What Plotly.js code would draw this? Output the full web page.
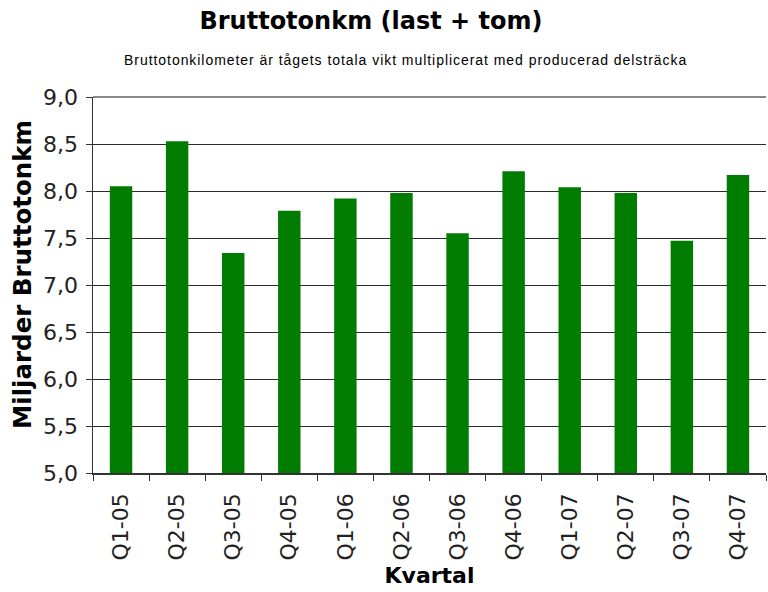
<!DOCTYPE html>
<html><head><meta charset="utf-8">
<script src="https://cdn.plot.ly/plotly-3.0.1.min.js"></script>
<style>body{margin:0;background:#fff} g.annotation[data-index="0"] .annotation-text{letter-spacing:0.95px}</style>
</head><body><div id="chart" style="width:768px;height:592px"></div>
<script>
const categories = ["Q1-05","Q2-05","Q3-05","Q4-05","Q1-06","Q2-06","Q3-06","Q4-06","Q1-07","Q2-07","Q3-07","Q4-07"];
const values = [8.05, 8.53, 7.34, 7.79, 7.92, 7.98, 7.55, 8.21, 8.04, 7.98, 7.47, 8.17];
const yTicks = [5.0, 5.5, 6.0, 6.5, 7.0, 7.5, 8.0, 8.5, 9.0];

const trace = {
  type: "bar", x: categories, y: values,
  marker: {color: "#007c00", line: {width: 0}},
  hoverinfo: "x+y"
};
const layout = {
  width: 768, height: 592,
  margin: {l: 93, r: 2, t: 97, b: 119},
  paper_bgcolor: "#fff", plot_bgcolor: "#fff",
  separators: ",.",
  bargap: 0.6,
  showlegend: false,
  font: {family: "DejaVu Sans, Verdana, sans-serif", color: "#000"},
  title: {text: "<b>Bruttotonkm (last + tom)</b>", font: {size: 24, family: "DejaVu Sans, Verdana, sans-serif"}, x: 0.483, xanchor: "center", y: 0.966, yanchor: "middle"},
  annotations: [{
    text: "Bruttotonkilometer är tågets totala vikt multiplicerat med producerad delsträcka",
    xref: "paper", yref: "paper", x: 0.4636, y: 1, yshift: 37, xanchor: "center", yanchor: "middle",
    showarrow: false, font: {size: 14, family: "Liberation Sans, Arial, sans-serif"}
  }, {
    text: "<b>Miljarder Bruttotonkm</b>",
    xref: "paper", yref: "paper", x: -0.1055, y: 0.529, xanchor: "center", yanchor: "middle",
    textangle: -90, showarrow: false, font: {size: 24.5, family: "DejaVu Sans, Verdana, sans-serif"}
  }],
  xaxis: {
    type: "category",
    tickangle: -90,
    tickfont: {size: 22, family: "DejaVu Sans, Verdana, sans-serif", color: "#222"},
    ticks: "outside", tickson: "boundaries", ticklen: 6, tickcolor: "#333",
    ticklabelstandoff: 10,
    showline: true, linecolor: "#333", linewidth: 1.5,
    showgrid: false,
    title: {text: "<b>Kvartal</b>", font: {size: 22}, standoff: 8}
  },
  yaxis: {
    range: [5, 9],
    tickvals: yTicks,
    tickformat: ".1f",
    tickfont: {size: 22, family: "DejaVu Sans, Verdana, sans-serif", color: "#222"},
    ticks: "outside", ticklen: 6, tickcolor: "#333",
    ticklabelstandoff: 3,
    showline: true, linecolor: "#333", linewidth: 1.5,
    showgrid: true, gridcolor: "#2a2a2a", gridwidth: 1,
    zeroline: false
  },
  shapes: [{type: "line", xref: "paper", yref: "paper", x0: 0, x1: 1, y0: 1, y1: 1, line: {color: "#888", width: 2}}]
};
Plotly.newPlot("chart", [trace], layout, {displayModeBar: false, staticPlot: true});
</script></body></html>
